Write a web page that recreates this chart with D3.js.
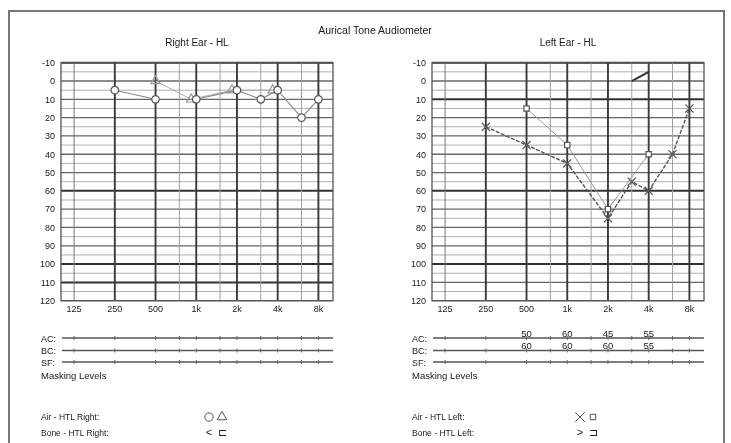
<!DOCTYPE html>
<html><head><meta charset="utf-8">
<script src="https://cdn.jsdelivr.net/npm/d3@7"></script>
<style>
html,body{margin:0;padding:0;background:#fff;}
svg{display:block;}
text{font-family:"Liberation Sans",Arial,sans-serif;fill:#1a1a1a;}
</style></head>
<body>
<script>
// ---------- data ----------
const freqTicks = [125, 250, 500, 1000, 2000, 4000, 8000];
const freqLabels = ["125", "250", "500", "1k", "2k", "4k", "8k"];
const boldFreqs = [250, 500, 1000, 2000, 4000, 8000];
const thinFreqs = [125, 750, 1500, 3000, 6000];
const rowFreqs = [125, 250, 500, 750, 1000, 1500, 2000, 3000, 4000, 6000, 8000];
const dbLabels = [-10, 0, 10, 20, 30, 40, 50, 60, 70, 80, 90, 100, 110, 120];

const rightAirFreq = [250, 500, 750, 1000, 2000, 3000, 4000, 6000, 8000];
const rightAirDb   = [5, 10, null, 10, 5, 10, 5, 20, 10];
const rightMaskedFreq = [500, 1000, 2000, 4000];
const rightMaskedDb   = [0, 10, 5, 5];

const leftAirFreq = [250, 500, 1000, 2000, 3000, 4000, 6000, 8000];
const leftAirDb   = [25, 35, 45, 75, 55, 60, 40, 15];
const leftMaskedFreq = [500, 1000, 2000, 4000];
const leftMaskedDb   = [15, 35, 70, 40];
const leftBoneFreq = [3000, 4000];
const leftBoneDb   = [0, -5];

const maskFreq = [500, 1000, 2000, 4000];
const leftMaskAC = [50, 60, 45, 55];
const leftMaskBC = [60, 60, 60, 55];

const rowNames = ["AC:", "BC:", "SF:"];

// ---------- drawing ----------
const W = 731, H = 443;
const svg = d3.select("body").append("svg").attr("width", W).attr("height", H);
const defs = svg.append("defs");
defs.append("filter").attr("id", "scan").append("feGaussianBlur").attr("stdDeviation", 0.45);
const root = svg.append("g").attr("filter", "url(#scan)");

root.append("rect").attr("x", 9).attr("y", 11).attr("width", 715).attr("height", 445)
  .attr("fill", "none").attr("stroke", "#777").attr("stroke-width", 2);

root.append("text").attr("x", 375).attr("y", 34).attr("text-anchor", "middle")
  .attr("font-size", 10.5).text("Aurical Tone Audiometer");

function panel(cfg) {
  const g = root.append("g");
  const x = d3.scaleLog().domain([100, 10000]).range([cfg.x0, cfg.x1]);
  const y = d3.scaleLinear().domain([-10, 120]).range([62.7, 300.7]);
  const pr = cfg.x1 + 1.5;

  g.append("text").attr("x", (cfg.x0 + pr) / 2).attr("y", 46).attr("text-anchor", "middle")
    .attr("font-size", 10).text(cfg.title);

  // horizontal grid
  const minor = d3.range(-5, 120, 10);
  g.selectAll(".hm").data(minor).join("line")
    .attr("x1", cfg.x0).attr("x2", pr).attr("y1", d => y(d)).attr("y2", d => y(d))
    .attr("stroke", "#b0b0b0").attr("stroke-width", 1);
  g.selectAll(".hM").data(dbLabels).join("line")
    .attr("x1", cfg.x0).attr("x2", pr).attr("y1", d => y(d)).attr("y2", d => y(d))
    .attr("stroke", d => cfg.heavy.includes(d) ? "#333" : "#666")
    .attr("stroke-width", d => cfg.heavy.includes(d) ? 2 : 1.3);

  // vertical grid
  g.selectAll(".vt").data(thinFreqs).join("line")
    .attr("x1", d => x(d)).attr("x2", d => x(d)).attr("y1", y(-10)).attr("y2", y(120))
    .attr("stroke", d => d === 125 ? "#777" : "#a0a0a0").attr("stroke-width", 1);
  g.selectAll(".vb").data(boldFreqs).join("line")
    .attr("x1", d => x(d)).attr("x2", d => x(d)).attr("y1", y(-10)).attr("y2", y(120))
    .attr("stroke", "#3a3a3a").attr("stroke-width", 1.9);
  g.append("rect").attr("x", cfg.x0).attr("y", y(-10)).attr("width", pr - cfg.x0)
    .attr("height", y(120) - y(-10)).attr("fill", "none").attr("stroke", "#555").attr("stroke-width", 1.3);

  // axes labels
  g.selectAll(".yl").data(dbLabels).join("text")
    .attr("x", cfg.x0 - 6).attr("y", d => y(d) + 3.3).attr("text-anchor", "end")
    .attr("font-size", 9).text(d => d);
  g.selectAll(".xl").data(freqTicks).join("text")
    .attr("x", d => x(d)).attr("y", 311.5).attr("text-anchor", "middle")
    .attr("font-size", 9).text((d, i) => freqLabels[i]);

  // masking rows
  const rowY = [338, 350.5, 362];
  rowNames.forEach((nm, i) => {
    g.append("text").attr("x", cfg.x0 - 20).attr("y", rowY[i] + 3.5).attr("font-size", 9).text(nm);
    g.append("line").attr("x1", cfg.x0 + 1).attr("x2", pr).attr("y1", rowY[i]).attr("y2", rowY[i])
      .attr("stroke", "#555").attr("stroke-width", 1.4);
    g.selectAll(".rt" + i).data(rowFreqs).join("line")
      .attr("x1", d => x(d)).attr("x2", d => x(d)).attr("y1", rowY[i] - 2).attr("y2", rowY[i] + 2)
      .attr("stroke", "#666").attr("stroke-width", 1);
  });
  if (cfg.maskAC) {
    g.selectAll(".mac").data(maskFreq).join("text")
      .attr("x", d => x(d)).attr("y", rowY[0] - 1.5).attr("text-anchor", "middle")
      .attr("font-size", 9.5).text((d, i) => cfg.maskAC[i]);
    g.selectAll(".mbc").data(maskFreq).join("text")
      .attr("x", d => x(d)).attr("y", rowY[1] - 1.5).attr("text-anchor", "middle")
      .attr("font-size", 9.5).text((d, i) => cfg.maskBC[i]);
  }
  g.append("text").attr("x", cfg.x0 - 20).attr("y", 379).attr("font-size", 9.5).text("Masking Levels");

  // legend
  g.append("text").attr("x", cfg.x0 - 20).attr("y", 420).attr("font-size", 8.5).text(cfg.leg1);
  g.append("text").attr("x", cfg.x0 - 20).attr("y", 436).attr("font-size", 8.5).text(cfg.leg2);
  const lx = cfg.x0 + 148;
  cfg.legSyms.forEach((s, i) => {
    const row = Math.floor(i / 2), col = i % 2;
    const cx = lx + col * 13, cy = 417 + row * 15;
    if (s.type) {
      g.append("path").attr("transform", `translate(${cx},${cy})`)
        .attr("d", d3.symbol().type(s.type).size(s.size)())
        .attr("fill", "none").attr("stroke", "#555").attr("stroke-width", 1);
    } else {
      g.append("text").attr("x", cx).attr("y", cy + 4).attr("text-anchor", "middle")
        .attr("font-size", 11).attr("fill", "#555").text(s.ch);
    }
  });

  // series
  cfg.series.forEach(s => {
    const pts = s.freq.map((f, i) => ({ f, v: s.db[i], dx: s.dx ? s.dx(f, s.db[i]) : 0 }));
    const line = d3.line().defined(d => d.v !== null).x(d => x(d.f) + d.dx).y(d => y(d.v));
    g.append("path").attr("d", line(pts)).attr("fill", "none")
      .attr("stroke", s.lineColor).attr("stroke-width", s.lineWidth)
      .attr("stroke-dasharray", s.dash || null);
    if (s.sym) {
      g.selectAll(null).data(pts.filter(d => d.v !== null)).join("path")
        .attr("transform", d => `translate(${x(d.f) + d.dx},${y(d.v)})`)
        .attr("d", d3.symbol().type(s.sym).size(s.size)())
        .attr("fill", s.fill || "none").attr("stroke", s.symColor).attr("stroke-width", 1.2);
    }
  });
}

const sameAs = (fa, da) => (f, v) => fa.some((ff, i) => ff === f && da[i] === v) ? -5 : 0;

panel({
  x0: 61, x1: 331.5, title: "Right Ear - HL", heavy: [-10, 60, 100, 110],
  leg1: "Air - HTL Right:", leg2: "Bone - HTL Right:",
  legSyms: [{ type: d3.symbolCircle, size: 55 }, { type: d3.symbolTriangle, size: 40 }, { ch: "<" }, { ch: "\u228F" }],
  series: [
    { freq: rightMaskedFreq, db: rightMaskedDb, sym: d3.symbolTriangle, size: 38, lineColor: "#aaa", lineWidth: 1,
      symColor: "#999", dx: sameAs(rightAirFreq, rightAirDb) },
    { freq: rightAirFreq, db: rightAirDb, sym: d3.symbolCircle, size: 45, lineColor: "#888", lineWidth: 1.1,
      symColor: "#555", fill: "#fff" }
  ]
});

panel({
  x0: 432, x1: 702.5, title: "Left Ear - HL", heavy: [-10, 10, 60, 100],
  leg1: "Air - HTL Left:", leg2: "Bone - HTL Left:",
  maskAC: leftMaskAC, maskBC: leftMaskBC,
  legSyms: [{ type: d3.symbolX, size: 60 }, { type: d3.symbolSquare, size: 30 }, { ch: ">" }, { ch: "\u2290" }],
  series: [
    { freq: leftMaskedFreq, db: leftMaskedDb, sym: d3.symbolSquare, size: 28, lineColor: "#999", lineWidth: 1,
      symColor: "#555", fill: "#fff" },
    { freq: leftAirFreq, db: leftAirDb, sym: d3.symbolX, size: 45, lineColor: "#555", lineWidth: 1.4,
      dash: "4,1.5", symColor: "#555" },
    { freq: leftBoneFreq, db: leftBoneDb, lineColor: "#333", lineWidth: 2 }
  ]
});
</script>
</body></html>
